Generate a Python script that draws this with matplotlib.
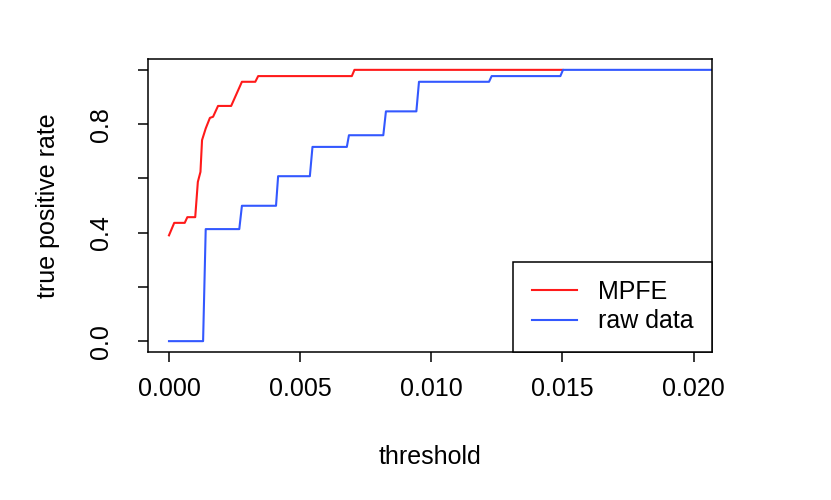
import numpy as np
import matplotlib.pyplot as plt

plt.rcParams['font.family'] = ['Liberation Sans', 'DejaVu Sans']

# ROC-like curves
mpfe_x = [0.0, 0.0002, 0.0006, 0.0007, 0.0010, 0.0011, 0.0012, 0.00126, 0.0014,
          0.00156, 0.00168, 0.00187, 0.00237, 0.00278, 0.00329, 0.0034, 0.00697,
          0.00707, 0.0150]
mpfe_y = [0.39, 0.436, 0.436, 0.457, 0.457, 0.587, 0.624, 0.741, 0.784,
          0.823, 0.827, 0.867, 0.867, 0.956, 0.956, 0.977, 0.977,
          1.0, 1.0]

raw_x = [0.0, 0.0013, 0.0014, 0.00268, 0.00278, 0.00408, 0.00416, 0.00537, 0.00547,
         0.00678, 0.00686, 0.00817, 0.00827, 0.00943, 0.00953, 0.0122, 0.0123,
         0.01492, 0.01502, 0.0210]
raw_y = [0.0, 0.0, 0.413, 0.413, 0.499, 0.499, 0.608, 0.608, 0.716,
         0.716, 0.759, 0.759, 0.847, 0.847, 0.956, 0.956, 0.977,
         0.977, 1.0, 1.0]

x_ticks = [0.0, 0.005, 0.010, 0.015, 0.020]
x_labels = ['0.000', '0.005', '0.010', '0.015', '0.020']
y_ticks = [0.0, 0.2, 0.4, 0.6, 0.8, 1.0]
y_labels = ['0.0', '', '0.4', '', '0.8', '']

W, H = 831, 500
fig = plt.figure(figsize=(W / 100, H / 100), dpi=100)
ax = fig.add_axes([148 / W, (H - 352) / H, (712 - 148) / W, (352 - 59) / H])

ax.plot(mpfe_x, mpfe_y, color='#ff1a1a', lw=1.5, label='MPFE')
ax.plot(raw_x, raw_y, color='#3358ff', lw=1.5, label='raw data')

ax.set_xlim(-0.0008, 0.0207)
ax.set_ylim(-0.04, 1.04)

# R style box: full frame
for s in ax.spines.values():
    s.set_linewidth(1.1)

ax.set_xticks(x_ticks)
ax.set_xticklabels(x_labels)
ax.set_yticks(y_ticks)
ax.set_yticklabels(y_labels, rotation=90, va='center')
ax.tick_params(axis='both', direction='out', length=7, width=1.1, labelsize=18)
ax.tick_params(axis='x', pad=11)
ax.tick_params(axis='y', pad=18)

ax.set_xlabel('threshold', fontsize=18, va='center')
ax.xaxis.set_label_coords(0.5, -0.358)
ax.set_ylabel('true positive rate', fontsize=18, va='center')
ax.yaxis.set_label_coords(-0.178, 0.5)

leg = ax.legend(loc='lower right', fontsize=18, frameon=True, fancybox=False,
                edgecolor='black', framealpha=1, borderaxespad=0,
                borderpad=0.74, labelspacing=0.22, handlelength=1.8,
                handletextpad=0.85)
leg.get_frame().set_linewidth(1.1)

fig.savefig('out.png', dpi=100)
